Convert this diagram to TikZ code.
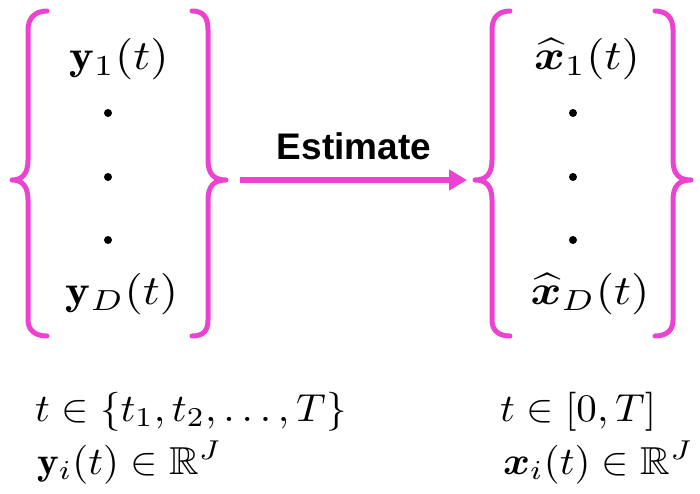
\documentclass[tikz,border=0pt]{standalone}
\usepackage{amsmath,amssymb,bm}
\usepackage{graphicx}
\usepackage{fontspec}
\newfontfamily\arialb{Liberation Sans}
\usetikzlibrary{arrows.meta}
\definecolor{bracepink}{RGB}{236,66,210}
\newcommand\mtop[1]{\scalebox{4.7}[4.15]{#1}}
\newcommand\mbot[1]{\scalebox{4.1}[3.9]{#1}}
\tikzset{
  bracestyle/.style={draw=bracepink, line width=5pt, line cap=round, line join=round},
  mathlbl/.style={inner sep=0pt},
  dotnode/.style={circle, fill=black, inner sep=0pt, minimum size=8pt},
  estarrow/.style={draw=bracepink, line width=6pt, -{Triangle[length=18pt,width=20pt]}},
}
\begin{document}
\begin{tikzpicture}[x=1pt,y=-1pt]
\useasboundingbox (0,0) rectangle (700,493);
% left group braces
\path[bracestyle] (47,11) .. controls (35,11) and (28,18) .. (28,30) -- (28,160)
  .. controls (28,174) and (22,180) .. (12,180)
  .. controls (22,180) and (28,186) .. (28,200) -- (28,320)
  .. controls (28,330) and (35,336) .. (47,336);
\path[bracestyle] (192,11) .. controls (204,11) and (208,18) .. (208,30) -- (208,160)
  .. controls (208,174) and (214,180) .. (226,180)
  .. controls (214,180) and (208,186) .. (208,200) -- (208,320)
  .. controls (208,330) and (204,336) .. (192,336);
% right group braces
\path[bracestyle] (510,11) .. controls (498,11) and (492,18) .. (492,30) -- (492,160)
  .. controls (492,174) and (486,180) .. (475,180)
  .. controls (486,180) and (492,186) .. (492,200) -- (492,320)
  .. controls (492,330) and (498,336) .. (510,336);
\path[bracestyle] (655,11) .. controls (667,11) and (673,18) .. (673,30) -- (673,160)
  .. controls (673,174) and (679,180) .. (691,180)
  .. controls (679,180) and (673,186) .. (673,200) -- (673,320)
  .. controls (673,330) and (667,336) .. (655,336);
% left contents
\node[mathlbl, anchor=base] (y1) at (119,69) {\mtop{$\mathbf{y}_1(t)$}};
\node[dotnode] (ld1) at (108,113) {};
\node[dotnode] (ld2) at (108,177) {};
\node[dotnode] (ld3) at (108,240) {};
\node[mathlbl, anchor=base] (yD) at (122,304) {\mtop{$\mathbf{y}_D(t)$}};
% right contents
\node[mathlbl, anchor=base] (x1) at (587,69) {\mtop{$\widehat{\bm{x}}_1(t)$}};
\node[dotnode] (rd1) at (573,113) {};
\node[dotnode] (rd2) at (573,177) {};
\node[dotnode] (rd3) at (573,240) {};
\node[mathlbl, anchor=base] (xD) at (590,304) {\mtop{$\widehat{\bm{x}}_D(t)$}};
% arrow
\coordinate (as) at (240,180);
\coordinate (ae) at (467,180);
\draw[estarrow] (as) -- (ae);
\node[font=\arialb\bfseries\fontsize{37}{39}\selectfont, inner sep=0pt] (est) at (354,146) {Estimate};
% bottom texts
\node[mathlbl, anchor=base west] (tl) at (35,421) {\mbot{$t\in\{t_1,t_2,\dots,T\}$}};
\node[mathlbl, anchor=base west] (yl) at (37,474) {\mbot{$\mathbf{y}_i(t)\in\mathbb{R}^J$}};
\node[mathlbl, anchor=base west] (tr) at (500,421) {\mbot{$t\in[0,T]$}};
\node[mathlbl, anchor=base west] (xr) at (503,474) {\mbot{$\bm{x}_i(t)\in\mathbb{R}^J$}};
\end{tikzpicture}
\end{document}
